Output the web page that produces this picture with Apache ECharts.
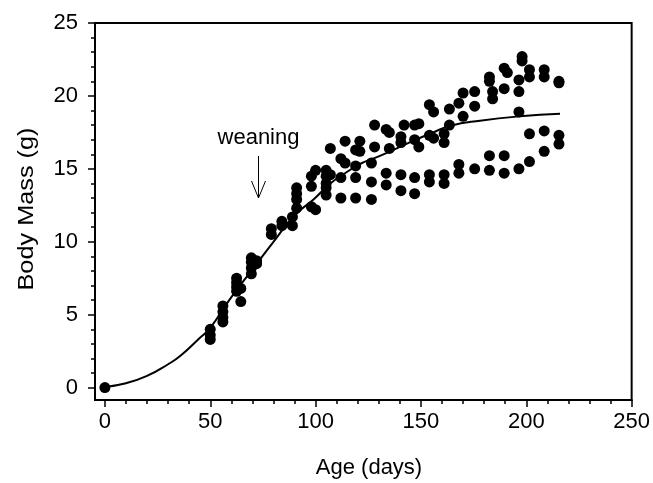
<!DOCTYPE html>
<html>
<head>
<meta charset="utf-8">
<script src="https://cdn.jsdelivr.net/npm/echarts@6/dist/echarts.min.js"></script>
<style>
html,body{margin:0;padding:0;background:#fff;}
#chart{width:653px;height:483px;}
</style>
</head>
<body>
<div id="chart"></div>
<script>
// ---- data ----
const ageDays = [
  0,
  50, 50, 50,
  56, 56, 56, 56,
  62.5, 62.5, 62.5, 62.5,
  64.5, 64.5,
  69.5, 69.5, 69.5, 69.5,
  72, 72,
  79, 79,
  84, 84,
  89, 89,
  91, 91, 91, 91,
  98, 98, 98,
  100, 100,
  105, 105, 105, 105, 105,
  107, 107,
  112, 112, 112,
  114, 114,
  119, 119, 119, 119,
  121, 121,
  126.5, 126.5, 126.5,
  128, 128,
  133.5, 133.5, 133.5,
  135, 135,
  140.5, 140.5, 140.5, 140.5,
  142,
  147, 147, 147, 147,
  149, 149,
  154, 154, 154, 154,
  156, 156,
  161, 161, 161, 161,
  163.5, 163.5,
  168, 168, 168,
  170, 170,
  175.5, 175.5, 175.5,
  182.5, 182.5, 182.5, 182.5,
  184, 184,
  189.5, 189.5, 189.5, 189.5,
  191,
  196.5, 196.5, 196.5, 196.5,
  198, 198,
  201.5, 201.5, 201.5, 201.5,
  208.5, 208.5, 208.5, 208.5,
  215.5, 215.5, 215.5, 215.5
];
const massG = [
  0,
  4.0, 3.6, 3.3,
  5.6, 5.2, 4.8, 4.5,
  7.5, 7.2, 6.9, 6.6,
  6.8, 5.9,
  8.9, 8.6, 8.2, 7.8,
  8.7, 8.5,
  10.9, 10.5,
  11.4, 11.1,
  11.7, 11.1,
  13.7, 13.3, 12.9, 12.3,
  14.5, 13.8, 12.4,
  14.9, 12.2,
  14.9, 14.5, 14.0, 13.7, 13.2,
  16.4, 14.6,
  15.7, 14.4, 13.0,
  16.9, 15.4,
  16.3, 15.2, 14.4, 13.0,
  16.9, 16.2,
  15.4, 14.1, 12.9,
  18.0, 16.5,
  17.7, 14.7, 13.9,
  17.5, 16.4,
  17.2, 16.8, 14.6, 13.5,
  18.0,
  18.0, 17.0, 14.4, 13.3,
  18.1, 16.5,
  19.4, 17.3, 14.6, 14.1,
  18.9, 17.1,
  17.4, 16.8, 14.6, 14.0,
  19.1, 18.0,
  19.5, 15.3, 14.7,
  20.2, 18.6,
  20.3, 19.3, 15.0,
  21.3, 21.0, 15.9, 14.9,
  20.3, 19.8,
  21.9, 20.5, 15.9, 14.7,
  21.6,
  21.1, 20.3, 18.9, 15.0,
  22.7, 22.4,
  21.8, 21.3, 17.4, 15.5,
  21.8, 21.3, 17.6, 16.2,
  21.0, 20.9, 17.3, 16.7
];
// fitted growth curve
const curveAge  = [0, 10, 20, 30, 36, 45, 50, 59, 70, 80, 90, 99, 107, 115, 122, 130, 146, 155, 164, 178, 197, 216];
const curveMass = [0.05, 0.3, 0.8, 1.6, 2.2, 3.4, 4.1, 6.0, 8.1, 10.0, 11.8, 12.9, 14.0, 14.8, 15.4, 15.85, 16.9, 17.45, 17.95, 18.3, 18.6, 18.77];

const xMajorTicks = [0, 50, 100, 150, 200, 250];
const yMajorTicks = [0, 5, 10, 15, 20, 25];
const xMinorTicks = [10,20,30,40,60,70,80,90,110,120,130,140,160,170,180,190,210,220,230,240];
const yMinorTicks = [1,2,3,4,6,7,8,9,11,12,13,14,16,17,18,19,21,22,23,24];

const xTitle = 'Age (days)';
const yTitle = 'Body Mass (g)';
const noteText = 'weaning';

// ---- chart ----
const FONT = 'Liberation Sans, Arial, Helvetica, sans-serif';
const FS = 22;
const X_MIN = -4.7, X_MAX = 250, Y_MIN = -0.85, Y_MAX = 25;

const scatterData = ageDays.map((a, i) => [a, massG[i]]);
const curveData = curveAge.map((a, i) => [a, curveMass[i]]);

const chart = echarts.init(document.getElementById('chart'), null, {renderer: 'canvas'});

const option = {
  backgroundColor: '#fff',
  animation: false,
  grid: {left: 95, right: 21, top: 23, bottom: 83, show: true, borderColor: '#000', borderWidth: 2, containLabel: false},
  xAxis: [
    {
      type: 'value', min: X_MIN, max: X_MAX, gridIndex: 0,
      splitLine: {show: false},
      axisLine: {show: true, onZero: false, lineStyle: {color: '#000', width: 2}},
      axisTick: {show: true, inside: false, length: 7, lineStyle: {color: '#000', width: 1.5}, customValues: xMajorTicks},
      axisLabel: {show: true, margin: 11, color: '#000', fontSize: FS, fontFamily: FONT, customValues: xMajorTicks}
    },
    {
      type: 'value', min: X_MIN, max: X_MAX, gridIndex: 0, position: 'bottom',
      splitLine: {show: false},
      axisLine: {show: false, onZero: false},
      axisTick: {show: true, inside: false, length: 4, lineStyle: {color: '#000', width: 1.5}, customValues: xMinorTicks},
      axisLabel: {show: false}
    }
  ],
  yAxis: [
    {
      type: 'value', min: Y_MIN, max: Y_MAX, gridIndex: 0,
      splitLine: {show: false},
      axisLine: {show: true, onZero: false, lineStyle: {color: '#000', width: 2}},
      axisTick: {show: true, inside: false, length: 7, lineStyle: {color: '#000', width: 1.5}, customValues: yMajorTicks},
      axisLabel: {show: true, margin: 17, color: '#000', fontSize: FS, fontFamily: FONT, customValues: yMajorTicks}
    },
    {
      type: 'value', min: Y_MIN, max: Y_MAX, gridIndex: 0, position: 'left',
      splitLine: {show: false},
      axisLine: {show: false, onZero: false},
      axisTick: {show: true, inside: false, length: 4, lineStyle: {color: '#000', width: 1.5}, customValues: yMinorTicks},
      axisLabel: {show: false}
    }
  ],
  series: [
    {
      type: 'line', xAxisIndex: 0, yAxisIndex: 0,
      data: curveData, smooth: 0.5, showSymbol: false, silent: true,
      lineStyle: {color: '#000', width: 2}, z: 2
    },
    {
      type: 'scatter', xAxisIndex: 0, yAxisIndex: 0,
      data: scatterData, symbol: 'circle', symbolSize: 11,
      itemStyle: {color: '#000', opacity: 1}, z: 3
    }
  ],
  graphic: [
    {type: 'text', x: 369, y: 468,
      style: {text: xTitle, fontSize: FS, fontFamily: FONT, fill: '#000', align: 'center', verticalAlign: 'middle'}},
    {type: 'text', x: 27, y: 209, rotation: Math.PI / 2, scaleX: 1.15,
      style: {text: yTitle, fontSize: FS, fontFamily: FONT, fill: '#000', align: 'center', verticalAlign: 'middle'}},
    {type: 'text', x: 258.5, y: 138,
      style: {text: noteText, fontSize: FS, fontFamily: FONT, fill: '#000', align: 'center', verticalAlign: 'middle'}},
    {type: 'line', shape: {x1: 258.5, y1: 156, x2: 258.5, y2: 198}, style: {stroke: '#000', lineWidth: 1}},
    {type: 'polyline', shape: {points: [[251.5, 181], [258.5, 198], [265.5, 181]]}, style: {stroke: '#000', lineWidth: 1, fill: null}}
  ]
};
chart.setOption(option);
</script>
</body>
</html>
